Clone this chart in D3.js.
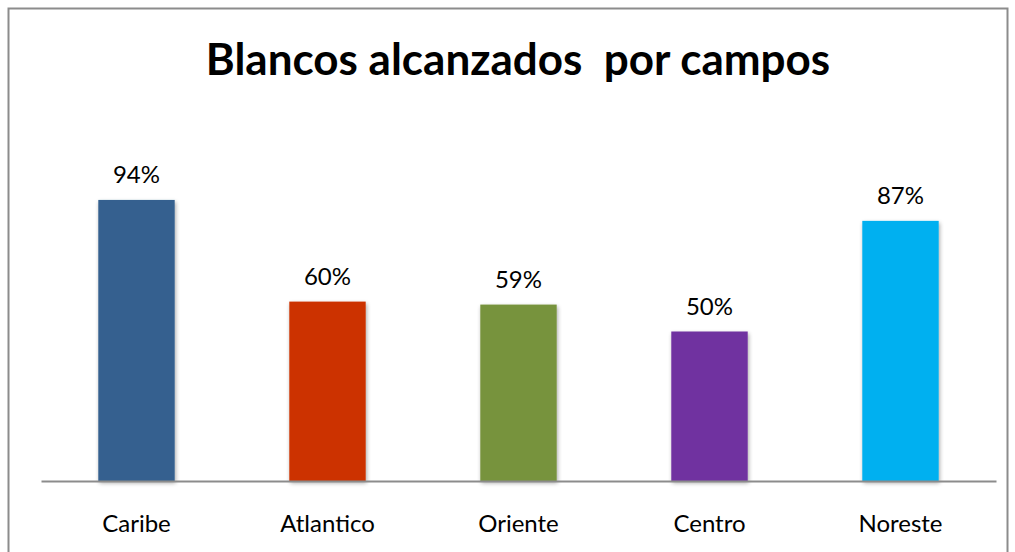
<!DOCTYPE html>
<html><head><meta charset="utf-8">
<script src="https://cdn.jsdelivr.net/npm/d3@7"></script>
<style>body{margin:0;background:#fff}svg{display:block}</style>
</head><body>
<svg id="c" width="1015" height="552"></svg>
<script>
const categories = ["Caribe","Atlantico","Oriente","Centro","Noreste"];
const values = [0.94,0.60,0.59,0.50,0.87];
const colors = ["#35608F","#CC3300","#77933C","#7030A0","#00B0F0"];
const title = "Blancos alcanzados\u00a0 por campos";

const svg = d3.select("#c");
const font = "Lato, 'Open Sans', sans-serif";
const defs = svg.append("defs");
const f = defs.append("filter").attr("id","sh").attr("x","-20%").attr("y","-20%").attr("width","140%").attr("height","140%");
f.append("feGaussianBlur").attr("in","SourceAlpha").attr("stdDeviation",2);
f.append("feOffset").attr("dx",1).attr("dy",2).attr("result","b");
f.append("feComponentTransfer").append("feFuncA").attr("type","linear").attr("slope",0.35);
const m = f.append("feMerge"); m.append("feMergeNode"); m.append("feMergeNode").attr("in","SourceGraphic");

svg.append("rect").attr("x",8.5).attr("y",8.5).attr("width",999).attr("height",560)
  .attr("fill","#fff").attr("stroke","#8c8c8c").attr("stroke-width",2);

svg.append("text").attr("x",518).attr("y",75).attr("text-anchor","middle")
  .attr("font-family",font).attr("font-weight","bold").attr("font-size",44).attr("fill","#000").text(title);

const x = d3.scaleBand().domain(categories).range([41,996]).paddingInner(0.6).paddingOuter(0.3);
const y = d3.scaleLinear().domain([0,1]).range([481,182]);

svg.append("g").selectAll("rect").data(values).join("rect")
  .attr("x",(d,i)=>x(categories[i])).attr("y",d=>y(d))
  .attr("width",x.bandwidth()).attr("height",d=>y(0)-y(d))
  .attr("fill",(d,i)=>colors[i]).attr("filter","url(#sh)");

const ax = svg.append("g").attr("transform","translate(0,481)")
  .call(d3.axisBottom(x).tickSize(0).tickSizeOuter(0));
ax.select(".domain").attr("stroke","#8c8c8c").attr("stroke-width",2);
ax.selectAll("text").attr("y",51).attr("dy",0).attr("font-family",font).attr("font-size",24).attr("fill","#000");

svg.append("g").selectAll("text").data(values).join("text")
  .attr("x",(d,i)=>x(categories[i])+x.bandwidth()/2).attr("y",d=>y(d)-17)
  .attr("text-anchor","middle").attr("font-family",font).attr("font-size",24).attr("fill","#000")
  .text(d=>d3.format(".0%")(d));
</script>
</body></html>
